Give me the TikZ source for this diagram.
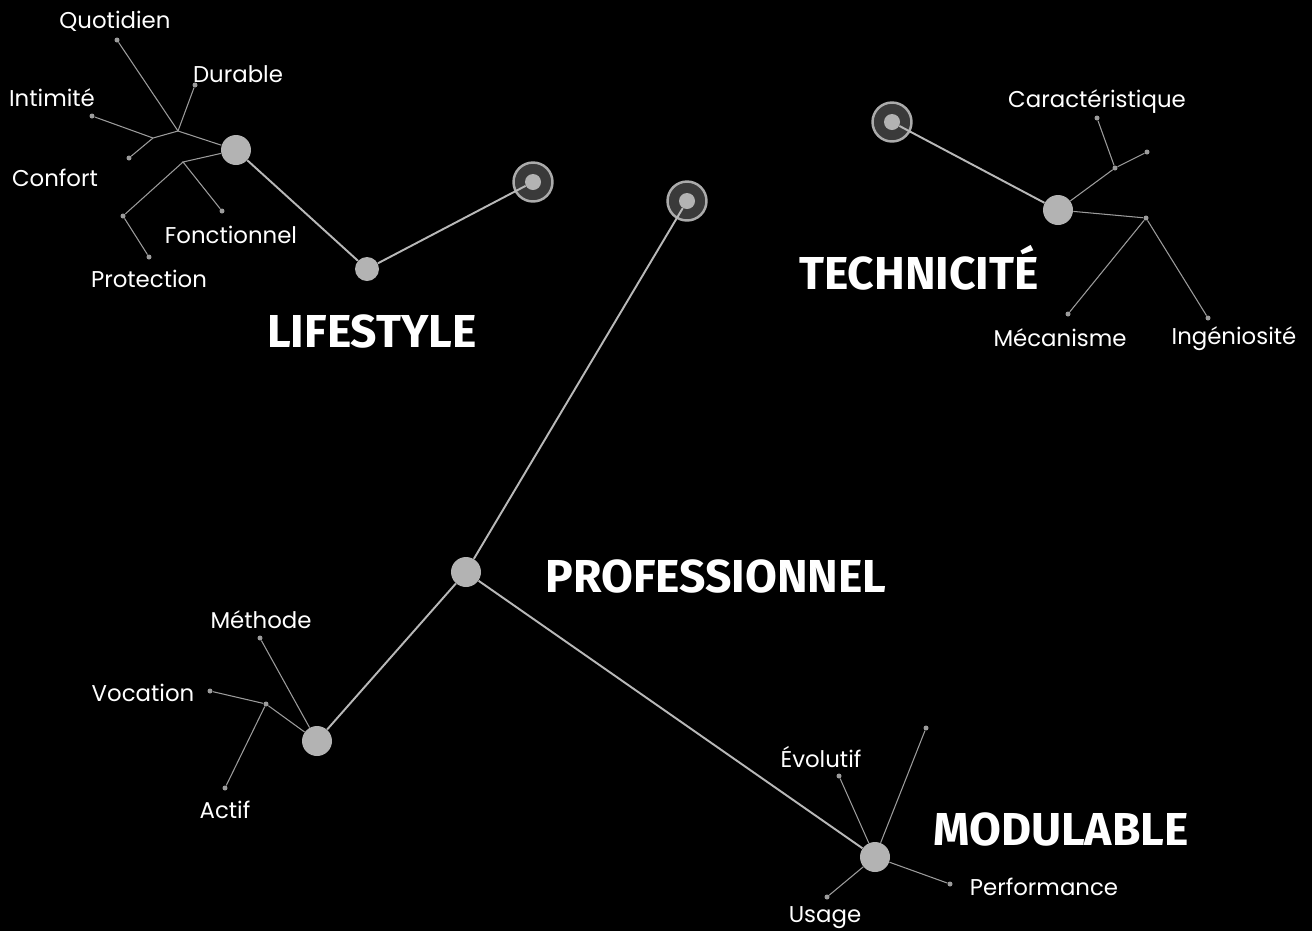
\documentclass[tikz,border=0pt]{standalone}
\usepackage{fontspec}
\setmainfont{Poppins}
\newfontfamily\titlefont{Fira Sans}
\usepackage{tikz}

\definecolor{nodegray}{HTML}{B3B3B3}
\definecolor{linegray}{HTML}{B8B8B8}
\definecolor{branchgray}{HTML}{9C9C9C}
\definecolor{ringfill}{HTML}{3A3A3A}
\definecolor{ringedge}{HTML}{ABABAB}

\begin{document}
\begin{tikzpicture}[x=0.02cm,y=-0.02cm,
    hub/.style={circle,fill=nodegray,inner sep=0pt,minimum size=0.6cm},
    midhub/.style={circle,fill=nodegray,inner sep=0pt,minimum size=0.48cm},
    ring/.style={circle,fill=ringfill,draw=ringedge,line width=1.4pt,inner sep=0pt,minimum size=0.78cm},
    core/.style={circle,fill=nodegray,inner sep=0pt,minimum size=0.32cm},
    leaf/.style={circle,fill=branchgray,inner sep=0pt,minimum size=0.1cm},
    word/.style={text=white,font=\fontsize{13}{15}\selectfont,inner sep=0pt},
    title/.style={text=white,font=\titlefont\bfseries\fontsize{26.3}{30}\selectfont,inner sep=0pt},
    mainline/.style={draw=linegray,line width=1.1pt},
    branch/.style={draw=branchgray,line width=0.6pt}]
    \fill[black] (0,0) rectangle (1312,931);
    \useasboundingbox (0,0) rectangle (1312,931);

    % lifestyle
    \node[hub] (lshub) at (236,150) {};
    \node[midhub] (lsmid) at (367,269) {};
    \node[ring] (lsring) at (533,182) {};
    \node[core] (lscore) at (533,182) {};
    \coordinate (lsj1) at (178,131);
    \coordinate (lsj2) at (153,138);
    \coordinate (lsj3) at (183,162);
    \node[leaf] (lsj4) at (123,216) {};
    \node[leaf] (quot) at (117,40) {};
    \node[leaf] (dura) at (195,85) {};
    \node[leaf] (inti) at (92,116) {};
    \node[leaf] (conf) at (129,158) {};
    \node[leaf] (fonc) at (222,211) {};
    \node[leaf] (prot) at (149,257) {};
    \node[word] (tquot) at (115,21) {Quotidien};
    \node[word] (tdura) at (238,74) {Durable};
    \node[word] (tinti) at (52,98) {Intimité};
    \node[word] (tconf) at (55,178) {Confort};
    \node[word] (tfonc) at (231,235) {Fonctionnel};
    \node[word] (tprot) at (149,279) {Protection};
    \node[title] (tlife) at (372,331) {LIFESTYLE};
    \draw[mainline] (lscore) -- (lsmid) -- (lshub);
    \draw[branch] (lshub) -- (lsj1) -- (quot);
    \draw[branch] (lsj1) -- (dura);
    \draw[branch] (lsj1) -- (lsj2) -- (inti);
    \draw[branch] (lsj2) -- (conf);
    \draw[branch] (lshub) -- (lsj3) -- (fonc);
    \draw[branch] (lsj3) -- (lsj4) -- (prot);

    % professionnel
    \node[ring] (prring) at (687,201) {};
    \node[core] (prcore) at (687,201) {};
    \node[hub] (prhub) at (466,572) {};
    \node[hub] (prleft) at (317,741) {};
    \node[leaf] (prj) at (266,704) {};
    \node[leaf] (meth) at (260,638) {};
    \node[leaf] (voca) at (210,691) {};
    \node[leaf] (acti) at (225,788) {};
    \node[word] (tmeth) at (261,620) {Méthode};
    \node[word] (tvoca) at (143,693) {Vocation};
    \node[word] (tacti) at (225,810) {Actif};
    \node[title] (tpro) at (716,576) {PROFESSIONNEL};
    \draw[mainline] (prcore) -- (prhub) -- (prleft);
    \draw[branch] (prleft) -- (meth);
    \draw[branch] (prleft) -- (prj) -- (voca);
    \draw[branch] (prj) -- (acti);

    % technicite
    \node[ring] (tcring) at (892,122) {};
    \node[core] (tccore) at (892,122) {};
    \node[hub] (tchub) at (1058,210) {};
    \node[leaf] (tcj1) at (1115,168) {};
    \node[leaf] (tcj2) at (1146,218) {};
    \node[leaf] (tcend) at (1147,152) {};
    \node[leaf] (cara) at (1097,118) {};
    \node[leaf] (meca) at (1068,314) {};
    \node[leaf] (inge) at (1208,318) {};
    \node[word] (tcara) at (1097,102) {Caractéristique};
    \node[word] (tmeca) at (1060,338) {Mécanisme};
    \node[word] (tinge) at (1234,339) {Ingéniosité};
    \node[title] (ttech) at (919,268) {TECHNICITÉ};
    \draw[mainline] (tccore) -- (tchub);
    \draw[branch] (tchub) -- (tcj1) -- (tcend);
    \draw[branch] (tcj1) -- (cara);
    \draw[branch] (tchub) -- (tcj2) -- (meca);
    \draw[branch] (tcj2) -- (inge);

    % modulable
    \node[hub] (mdhub) at (875,857) {};
    \node[leaf] (evol) at (839,776) {};
    \node[leaf] (mdtop) at (926,728) {};
    \node[leaf] (perf) at (950,884) {};
    \node[leaf] (usag) at (827,897) {};
    \node[word] (tevol) at (821,757) {Évolutif};
    \node[word] (tperf) at (1044,887) {Performance};
    \node[word] (tusag) at (825,918) {Usage};
    \node[title] (tmod) at (1061,829) {MODULABLE};
    \draw[mainline] (prhub) -- (mdhub);
    \draw[branch] (mdhub) -- (evol);
    \draw[branch] (mdhub) -- (mdtop);
    \draw[branch] (mdhub) -- (perf);
    \draw[branch] (mdhub) -- (usag);
\end{tikzpicture}
\end{document}
